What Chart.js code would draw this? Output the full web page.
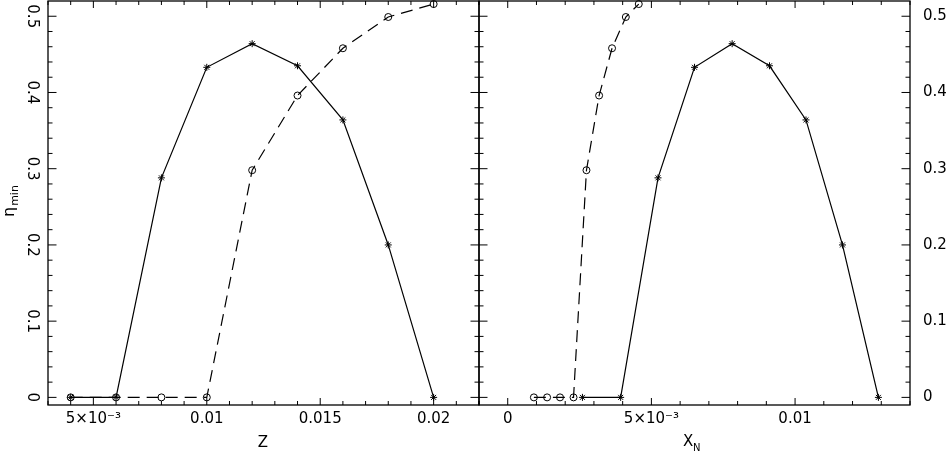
<!DOCTYPE html>
<html>
<head>
<meta charset="utf-8">
<script src="https://cdn.jsdelivr.net/npm/chart.js@4.4.1/dist/chart.umd.min.js"></script>
<style>
  body { margin: 0; background: #fff; }
  #wrap { position: relative; width: 950px; height: 451px; }
  canvas { position: absolute; top: 0; }
</style>
</head>
<body>
<div id="wrap">
  <canvas id="chartZ" width="480" height="451" style="left:0px"></canvas>
  <canvas id="chartXN" width="472" height="451" style="left:478px"></canvas>
</div>
<script>
// data
const zValues = [0.004, 0.006, 0.008, 0.010, 0.012, 0.014, 0.016, 0.018, 0.020];
const xnStar = [0.0026, 0.00393, 0.00523, 0.0065, 0.00781, 0.00911, 0.01038, 0.01165, 0.0129];
const xnCircle = [0.00091, 0.00137, 0.00182, 0.00229, 0.00274, 0.00318, 0.00363, 0.00411, 0.00456];
const etaStar = [0, 0, 0.288, 0.433, 0.464, 0.435, 0.364, 0.2, 0];
const etaCircle = [0, 0, 0, 0, 0.298, 0.396, 0.458, 0.499, 0.516];

// tick labels
const zTickValues = [0.005, 0.01, 0.015, 0.02];
const zTickLabels = ["5×10⁻³", "0.01", "0.015", "0.02"];
const xnTickValues = [0, 0.005, 0.01];
const xnTickLabels = ["0", "5×10⁻³", "0.01"];
const etaTickValues = [0, 0.1, 0.2, 0.3, 0.4, 0.5];
const etaTickLabels = ["0", "0.1", "0.2", "0.3", "0.4", "0.5"];

const FONT = "'DejaVu Sans', sans-serif";
Chart.defaults.font.family = FONT;

// tick positions (major + minor) for a scale
const tickList = (min, max, step) => {
  const out = [];
  for (let i = Math.ceil(min / step - 1e-6); i * step <= max + 1e-9; i++) {
    out.push(+(i * step).toFixed(6));
  }
  return out;
};

const labelFor = (v, values, labels) => {
  const i = values.findIndex((t) => Math.abs(t - v) < 1e-9);
  return i >= 0 ? labels[i] : "";
};

const pts = (xs, ys) => xs.map((x, i) => ({ x: x, y: ys[i] }));

const noPad = (s) => {
  s.paddingTop = 0;
  s.paddingBottom = 0;
  s.paddingLeft = 0;
  s.paddingRight = 0;
};

// frame with inward ticks on all four sides
const frameTicks = {
  id: "frameTicks",
  afterDraw(chart) {
    const { ctx, chartArea: a } = chart;
    const x = chart.scales.x;
    const y = chart.scales.y;
    ctx.save();
    ctx.strokeStyle = "#000";
    ctx.lineWidth = 1.3;
    ctx.strokeRect(a.left, a.top, a.right - a.left, a.bottom - a.top);
    ctx.lineWidth = 1;
    ctx.beginPath();
    x.ticks.forEach((t) => {
      const px = x.getPixelForValue(t.value);
      const len = t.label ? 7 : 4;
      ctx.moveTo(px, a.bottom);
      ctx.lineTo(px, a.bottom - len);
      ctx.moveTo(px, a.top);
      ctx.lineTo(px, a.top + len);
    });
    y.ticks.forEach((t) => {
      const py = y.getPixelForValue(t.value);
      const len = t.label ? 8.5 : 4.5;
      ctx.moveTo(a.left, py);
      ctx.lineTo(a.left + len, py);
      ctx.moveTo(a.right, py);
      ctx.lineTo(a.right - len, py);
    });
    ctx.stroke();
    ctx.restore();
  },
};

const starSet = (data) => ({
  data: data,
  showLine: true,
  borderColor: "#000",
  borderWidth: 1.2,
  pointStyle: "star",
  pointRadius: 3.5,
  pointBorderWidth: 1,
  pointBorderColor: "#000",
  pointBackgroundColor: "transparent",
  backgroundColor: "transparent",
  tension: 0,
  clip: false,
});

const circleSet = (data) => ({
  data: data,
  showLine: true,
  borderColor: "#000",
  borderWidth: 1.2,
  borderDash: [12, 7],
  pointStyle: "circle",
  pointRadius: 3.5,
  pointBorderWidth: 1,
  pointBorderColor: "#000",
  pointBackgroundColor: "transparent",
  backgroundColor: "transparent",
  tension: 0,
  clip: false,
});

const tickFont = { family: FONT, size: 15 };

// left panel: eta_min vs Z
new Chart(document.getElementById("chartZ"), {
  type: "scatter",
  data: {
    datasets: [starSet(pts(zValues, etaStar)), circleSet(pts(zValues, etaCircle))],
  },
  options: {
    responsive: false,
    animation: false,
    devicePixelRatio: 1,
    layout: { autoPadding: false, padding: { top: 1, right: 1, left: 0, bottom: 0 } },
    plugins: { legend: { display: false }, tooltip: { enabled: false } },
    scales: {
      x: {
        type: "linear",
        position: "bottom",
        min: 0.003,
        max: 0.022,
        grid: { display: false, drawTicks: true, tickLength: 5 },
        border: { display: false },
        afterBuildTicks: (s) => {
          s.ticks = tickList(0.003, 0.022, 0.001).map((v) => ({ value: v }));
        },
        afterFit: (s) => {
          s.height = 46;
          noPad(s);
        },
        ticks: {
          autoSkip: false,
          minRotation: 0,
          maxRotation: 0,
          padding: 0,
          color: "#000",
          font: tickFont,
          callback: (v) => labelFor(v, zTickValues, zTickLabels),
        },
      },
      y: {
        type: "linear",
        position: "left",
        min: -0.01,
        max: 0.52,
        grid: { display: false, drawTicks: true, tickLength: 4 },
        border: { display: false },
        afterBuildTicks: (s) => {
          s.ticks = tickList(0, 0.5, 0.02).map((v) => ({ value: v }));
        },
        afterFit: (s) => {
          s.width = 48;
          noPad(s);
        },
        ticks: {
          autoSkip: false,
          minRotation: -90,
          crossAlign: "center",
          padding: 0,
          color: "#000",
          font: tickFont,
          callback: (v) => labelFor(v, etaTickValues, etaTickLabels),
        },
      },
    },
  },
  plugins: [
    frameTicks,
    {
      id: "titlesZ",
      afterDraw(chart) {
        const ctx = chart.ctx;
        ctx.save();
        ctx.fillStyle = "#000";
        ctx.font = "15px " + FONT;
        ctx.textAlign = "center";
        ctx.textBaseline = "alphabetic";
        ctx.fillText("Z", 263, 447);
        // rotated eta_min
        ctx.translate(14, 217);
        ctx.rotate(-Math.PI / 2);
        ctx.textAlign = "left";
        ctx.font = "16px " + FONT;
        ctx.fillText("η", 0, 0);
        const w = ctx.measureText("η").width;
        ctx.font = "11px " + FONT;
        ctx.fillText("min", w + 1, 4);
        ctx.restore();
      },
    },
  ],
});

// right panel: eta_min vs X_N
new Chart(document.getElementById("chartXN"), {
  type: "scatter",
  data: {
    datasets: [starSet(pts(xnStar, etaStar)), circleSet(pts(xnCircle, etaCircle))],
  },
  options: {
    responsive: false,
    animation: false,
    devicePixelRatio: 1,
    layout: { autoPadding: false, padding: { top: 1, right: 0, left: 1, bottom: 0 } },
    plugins: { legend: { display: false }, tooltip: { enabled: false } },
    scales: {
      x: {
        type: "linear",
        position: "bottom",
        min: -0.001,
        max: 0.014,
        grid: { display: false, drawTicks: true, tickLength: 5 },
        border: { display: false },
        afterBuildTicks: (s) => {
          s.ticks = tickList(-0.001, 0.014, 0.001).map((v) => ({ value: v }));
        },
        afterFit: (s) => {
          s.height = 46;
          noPad(s);
        },
        ticks: {
          autoSkip: false,
          minRotation: 0,
          maxRotation: 0,
          padding: 0,
          color: "#000",
          font: tickFont,
          callback: (v) => labelFor(v, xnTickValues, xnTickLabels),
        },
      },
      y: {
        type: "linear",
        position: "right",
        min: -0.01,
        max: 0.52,
        grid: { display: false, drawTicks: true, tickLength: 13 },
        border: { display: false },
        afterBuildTicks: (s) => {
          s.ticks = tickList(0, 0.5, 0.02).map((v) => ({ value: v }));
        },
        afterFit: (s) => {
          s.width = 40;
          noPad(s);
        },
        ticks: {
          autoSkip: false,
          padding: 0,
          color: "#000",
          font: tickFont,
          callback: (v) => labelFor(v, etaTickValues, etaTickLabels),
        },
      },
    },
  },
  plugins: [
    frameTicks,
    {
      id: "titlesXN",
      afterDraw(chart) {
        const ctx = chart.ctx;
        ctx.save();
        ctx.fillStyle = "#000";
        ctx.textBaseline = "alphabetic";
        ctx.textAlign = "left";
        ctx.font = "15px " + FONT;
        ctx.fillText("X", 205, 446);
        ctx.font = "10px " + FONT;
        ctx.fillText("N", 215, 451);
        ctx.restore();
      },
    },
  ],
});
</script>
</body>
</html>
